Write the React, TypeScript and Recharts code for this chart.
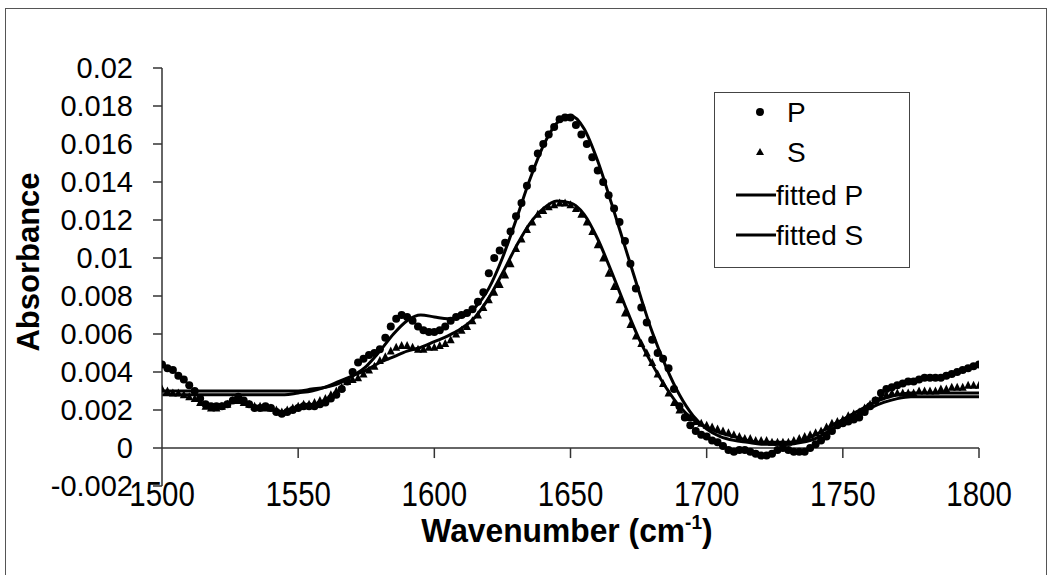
import React from "react";
import {
  ComposedChart,
  Scatter,
  Line,
  XAxis,
  YAxis,
  ReferenceLine,
} from "recharts";

// measured spectra, sampled every 2 cm-1 from 1500 to 1800
const SPEC_START = 1500;
const SPEC_STEP = 2;
const P_VALUES = [
  0.0044, 0.0042, 0.0041, 0.0038, 0.0036, 0.0033, 0.003, 0.0026, 0.0023, 0.0022,
  0.0022, 0.0022, 0.0023, 0.0025, 0.0027, 0.0025, 0.0023, 0.0021, 0.0021, 0.0022,
  0.0021, 0.0019, 0.0018, 0.0019, 0.002, 0.0021, 0.0022, 0.0022, 0.0022, 0.0023,
  0.0024, 0.0026, 0.0028, 0.0031, 0.0035, 0.004, 0.0045, 0.0047, 0.0049, 0.005,
  0.0052, 0.0058, 0.0064, 0.0068, 0.007, 0.0069, 0.0067, 0.0064, 0.0062, 0.0061,
  0.0061, 0.0062, 0.0064, 0.0067, 0.0069, 0.007, 0.0071, 0.0073, 0.0077, 0.0082,
  0.0092, 0.01, 0.0104, 0.0108, 0.0114, 0.0122, 0.0129, 0.0138, 0.0147, 0.0155,
  0.016, 0.0165, 0.0169, 0.0173, 0.0174, 0.0174, 0.017, 0.0165, 0.016, 0.0153,
  0.0146, 0.014, 0.0133, 0.0126, 0.0119, 0.0109, 0.0097, 0.0084, 0.0074, 0.0066,
  0.0057, 0.005, 0.0047, 0.0042, 0.0031, 0.0022, 0.0016, 0.0012, 0.0009, 0.0007,
  0.0006, 0.0004, 0.0003, 0.0001, -0.0001, -0.0002, -0.0001, -0.0001, -0.0002, -0.0003,
  -0.0004, -0.0004, -0.0003, -0.0001, 0.0, -0.0001, -0.0002, -0.0002, -0.0002, 0.0,
  0.0002, 0.0004, 0.0006, 0.0009, 0.0012, 0.0013, 0.0014, 0.0015, 0.0016, 0.0019,
  0.0022, 0.0025, 0.0029, 0.0031, 0.0032, 0.0033, 0.0034, 0.0035, 0.0035, 0.0036,
  0.0037, 0.0037, 0.0037, 0.0037, 0.0038, 0.0039, 0.004, 0.0041, 0.0042, 0.0043,
  0.0044,
];
const S_VALUES = [
  0.0031, 0.003, 0.0029, 0.0029, 0.0028, 0.0027, 0.0026, 0.0024, 0.0022, 0.0021,
  0.0021, 0.0022, 0.0023, 0.0025, 0.0025, 0.0024, 0.0023, 0.0022, 0.0022, 0.0021,
  0.0021, 0.002, 0.0019, 0.002, 0.0021, 0.0022, 0.0023, 0.0023, 0.0024, 0.0025,
  0.0026, 0.0028, 0.003, 0.0032, 0.0035, 0.0036, 0.0037, 0.0039, 0.0041, 0.0043,
  0.0046, 0.0048, 0.0051, 0.0053, 0.0054, 0.0054, 0.0053, 0.0052, 0.0052, 0.0053,
  0.0053, 0.0054, 0.0055, 0.0057, 0.006, 0.0062, 0.0064, 0.0067, 0.007, 0.0074,
  0.0078, 0.0082, 0.0086, 0.0091, 0.0097, 0.0105, 0.011, 0.0115, 0.0119, 0.0123,
  0.0125, 0.0127, 0.0128, 0.0129, 0.0129, 0.0128, 0.0126, 0.0123, 0.0119, 0.0114,
  0.0107, 0.01, 0.0092, 0.0085, 0.0078, 0.0071, 0.0065, 0.0059, 0.0055, 0.005,
  0.0045, 0.0039, 0.0034, 0.0029, 0.0024, 0.002, 0.0017, 0.0016, 0.0014, 0.0013,
  0.0012, 0.0011, 0.001, 0.0009, 0.0008, 0.0007, 0.0006, 0.0005, 0.0005, 0.0004,
  0.0004, 0.0004, 0.0003, 0.0003, 0.0003, 0.0003, 0.0004, 0.0005, 0.0006, 0.0007,
  0.0008, 0.0009, 0.0011, 0.0013, 0.0014, 0.0015, 0.0017, 0.0018, 0.0019, 0.0021,
  0.0023, 0.0025, 0.0027, 0.0028, 0.0029, 0.0029, 0.0029, 0.0029, 0.0029, 0.003,
  0.003, 0.003, 0.003, 0.0031, 0.0031, 0.0032, 0.0032, 0.0032, 0.0033, 0.0033,
  0.0033,
];

// fitted curves, every 5 cm-1
const FIT_START = 1500;
const FIT_STEP = 5;
const FIT_P = [
  0.003, 0.003, 0.003, 0.003, 0.003, 0.003, 0.003, 0.003, 0.003, 0.003,
  0.003, 0.0031, 0.0032, 0.0034, 0.0038, 0.0043, 0.0051, 0.006, 0.0067, 0.007,
  0.0069, 0.0068, 0.0069, 0.0074, 0.0084, 0.01, 0.012, 0.0141, 0.0159, 0.0171,
  0.0175, 0.0168, 0.0151, 0.0129, 0.0106, 0.0083, 0.0061, 0.0043, 0.0028, 0.0017,
  0.001, 0.0006, 0.0004, 0.0003, 0.0002, 0.0002, 0.0002, 0.0003, 0.0005, 0.0009,
  0.0013, 0.0017, 0.0021, 0.0024, 0.0026, 0.0027, 0.0027, 0.0027, 0.0027, 0.0027,
  0.0027,
];
const FIT_S = [
  0.0028, 0.0028, 0.0028, 0.0028, 0.0028, 0.0028, 0.0028, 0.0028, 0.0028, 0.0028,
  0.0029, 0.003, 0.0032, 0.0035, 0.0038, 0.0041, 0.0045, 0.0048, 0.0051, 0.0053,
  0.0056, 0.0059, 0.0063, 0.0069, 0.0079, 0.0092, 0.0106, 0.0118, 0.0126, 0.013,
  0.0129, 0.0123, 0.011, 0.0093, 0.0075, 0.0058, 0.0044, 0.0032, 0.0022, 0.0015,
  0.0011, 0.0008, 0.0006, 0.0004, 0.0003, 0.0003, 0.0003, 0.0004, 0.0007, 0.0011,
  0.0015, 0.0019, 0.0023, 0.0026, 0.0028, 0.0029, 0.0029, 0.0029, 0.0029, 0.0029,
  0.0029,
];

const X_TICKS = [1500, 1550, 1600, 1650, 1700, 1750, 1800];
const Y_TICKS = [
  -0.002, 0, 0.002, 0.004, 0.006, 0.008, 0.01, 0.012, 0.014, 0.016, 0.018, 0.02,
];
const LEGEND_ITEMS = ["P", "S", "fitted P", "fitted S"];

const toPoints = (vals: number[], start: number, step: number) =>
  vals.map((y, i) => ({ x: start + i * step, y }));

const pData = toPoints(P_VALUES, SPEC_START, SPEC_STEP);
const sData = toPoints(S_VALUES, SPEC_START, SPEC_STEP);
const fitPData = toPoints(FIT_P, FIT_START, FIT_STEP);
const fitSData = toPoints(FIT_S, FIT_START, FIT_STEP);

const FONT = "'Liberation Sans', Arial, sans-serif";
const INK = "#000";
const AXIS = "#333";

const Dot = (props: any) => <circle cx={props.cx} cy={props.cy} r={4} fill={INK} />;

const Tri = (props: any) => {
  const { cx, cy } = props;
  return <polygon points={`${cx},${cy - 4.5} ${cx - 4},${cy + 3.5} ${cx + 4},${cy + 3.5}`} fill={INK} />;
};

const XTick = (props: any) => {
  const { x, y, payload } = props;
  return (
    <g transform={`translate(${x},${y})`}>
      <text x={0} y={0} dy={11} textAnchor="middle" fontSize={31} fontFamily={FONT} fill={INK}
        transform="scale(0.95,1.12)">
        {payload.value}
      </text>
    </g>
  );
};

// legend drawn as a box of its own, over the plot (like the original)
const LegendBox = () => (
  <svg width={196} height={176} style={{ position: "absolute", left: 714, top: 92 }}>
    <rect x={0.5} y={0.5} width={195} height={175} fill="#fff" stroke="#444" />
    <circle cx={46} cy={20} r={4} fill={INK} />
    <polygon points="46,56 42,63 50,63" fill={INK} />
    <line x1={22} x2={62} y1={103} y2={103} stroke={INK} strokeWidth={3} />
    <line x1={22} x2={62} y1={143} y2={143} stroke={INK} strokeWidth={3} />
    <text x={73} y={30} fontSize={28} fontFamily={FONT}>{LEGEND_ITEMS[0]}</text>
    <text x={73} y={70} fontSize={28} fontFamily={FONT}>{LEGEND_ITEMS[1]}</text>
    <text x={62} y={113} fontSize={28} fontFamily={FONT}>{LEGEND_ITEMS[2]}</text>
    <text x={62} y={153} fontSize={28} fontFamily={FONT}>{LEGEND_ITEMS[3]}</text>
  </svg>
);

export default function App() {
  return (
    <div style={{ position: "fixed", left: 0, top: 0, width: 1050, height: 575, background: "#fff", overflow: "hidden" }}>
      <div
        style={{
          position: "absolute",
          left: 5,
          top: 8,
          width: 1042,
          height: 620,
          border: "1px solid #555",
          boxSizing: "border-box",
        }}
      />
      <ComposedChart
        width={1050}
        height={575}
        margin={{ top: 68, right: 71, left: 0, bottom: 49 }}
        style={{ position: "absolute", left: 0, top: 0 }}
      >
        <XAxis
          dataKey="x"
          type="number"
          domain={[1500, 1800]}
          ticks={X_TICKS}
          interval={0}
          axisLine={false}
          tickLine={false}
          height={40}
          tick={<XTick />}
          allowDataOverflow
        />
        <YAxis
          type="number"
          domain={[-0.002, 0.02]}
          ticks={Y_TICKS}
          interval={0}
          width={162}
          tickSize={9}
          tickMargin={20}
          axisLine={{ stroke: AXIS, strokeWidth: 1.5 }}
          tickLine={{ stroke: AXIS, strokeWidth: 1.5 }}
          tick={{ fontSize: 29, fontFamily: FONT, fill: INK }}
          tickFormatter={(v: number) => String(parseFloat(v.toFixed(3)))}
          allowDataOverflow
          label={{
            value: "Absorbance",
            angle: -90,
            position: "insideLeft",
            offset: 0,
            dx: 28,
            dy: -15,
            style: { fontSize: 31, fontWeight: "bold", fontFamily: FONT, fill: INK, textAnchor: "middle" },
          }}
        />
        <ReferenceLine y={0} stroke={AXIS} strokeWidth={1.5} />
        {X_TICKS.slice(1).map((t) => (
          <ReferenceLine
            key={t}
            segment={[
              { x: t, y: 0 },
              { x: t, y: -0.00053 },
            ]}
            stroke={AXIS}
            strokeWidth={1.5}
          />
        ))}
        <Line data={fitPData} dataKey="y" name="fitted P" type="monotone" stroke={INK} strokeWidth={3} dot={false} isAnimationActive={false} />
        <Line data={fitSData} dataKey="y" name="fitted S" type="monotone" stroke={INK} strokeWidth={3} dot={false} isAnimationActive={false} />
        <Scatter data={pData} dataKey="y" name="P" shape={<Dot />} isAnimationActive={false} />
        <Scatter data={sData} dataKey="y" name="S" shape={<Tri />} isAnimationActive={false} />
      </ComposedChart>
      <LegendBox />
      <svg width={1050} height={70} style={{ position: "absolute", left: 0, top: 500 }}>
        <text
          x={567}
          y={42}
          textAnchor="middle"
          fontFamily={FONT}
          fontWeight="bold"
          fontSize={30}
          fill={INK}
          transform="translate(567,42) scale(1.06,1.1) translate(-567,-42)"
        >
          Wavenumber (cm
          <tspan fontSize={18} dy={-12}>-1</tspan>
          <tspan dy={12}>)</tspan>
        </text>
      </svg>
    </div>
  );
}
